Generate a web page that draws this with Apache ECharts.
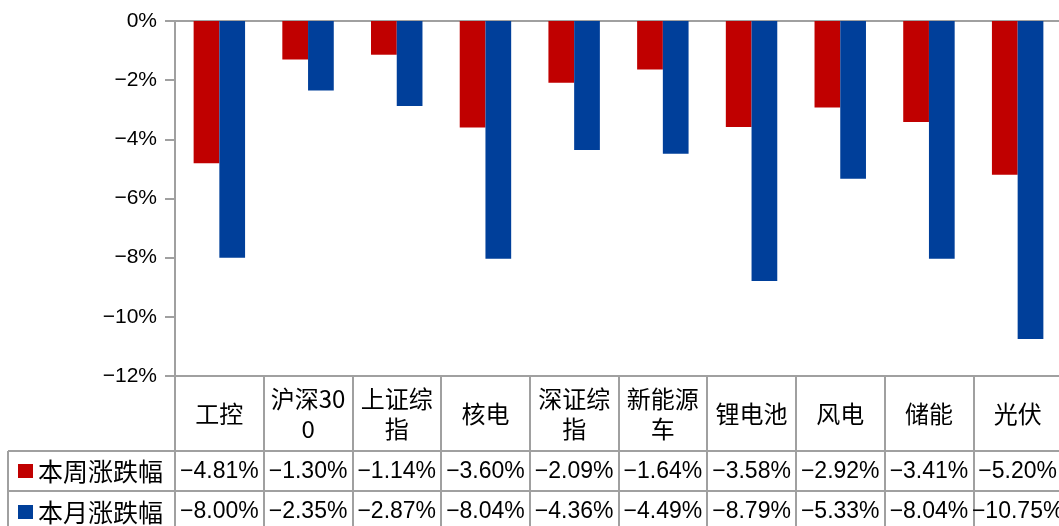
<!DOCTYPE html>
<html>
<head>
<meta charset="utf-8">
<script src="https://cdn.jsdelivr.net/npm/echarts@6/dist/echarts.min.js"></script>
<style>
  html, body { margin: 0; padding: 0; background: #fff; }
  #chart { width: 1059px; height: 526px; }
</style>
</head>
<body>
<div id="chart"></div>
<script>
// Sectors / indices shown along the category axis
const categories = ['工控', '沪深300', '上证综指', '核电', '深证综指', '新能源车', '锂电池', '风电', '储能', '光伏'];
// Series names
const seriesNames = ['本周涨跌幅', '本月涨跌幅'];
// Weekly change (%)
const weekly = [-4.81, -1.30, -1.14, -3.60, -2.09, -1.64, -3.58, -2.92, -3.41, -5.20];
// Monthly change (%)
const monthly = [-8.00, -2.35, -2.87, -8.04, -4.36, -4.49, -8.79, -5.33, -8.04, -10.75];
// Value axis ticks
const yTicks = { min: -12, max: 0, interval: 2 };

const RED = '#C00000';
const BLUE = '#003F9A';
const LINE = { color: '#a0a0a0', width: 2 };
const CJK = '"Noto Sans CJK SC", sans-serif';
const NUM = '"Liberation Sans", Arial, sans-serif';

const pct = v => (v < 0 ? '\u2212' : '') + Math.abs(v).toFixed(2) + '%';

// One table row drawn as an extra bottom category axis
function tableRowAxis(offset, values, tickLen) {
  return {
    type: 'category',
    data: categories,
    position: 'bottom',
    offset: offset,
    axisLine: { onZero: false, lineStyle: LINE },
    axisTick: { show: true, interval: 0, length: tickLen, lineStyle: LINE },
    axisLabel: {
      interval: 0,
      margin: 21,
      verticalAlign: 'middle',
      fontFamily: NUM,
      fontSize: 23,
      color: '#000',
      formatter: (v, i) => pct(values[i])
    }
  };
}

// Legend entry placed in the first column of a table row
function rowLegend(name, top) {
  return {
    data: [name],
    orient: 'vertical',
    left: 18,
    top: top,
    padding: 0,
    itemWidth: 15,
    itemHeight: 14,
    itemGap: 0,
    icon: 'rect',
    selectedMode: false,
    textStyle: { fontFamily: CJK, fontSize: 25, lineHeight: 26, color: '#000' }
  };
}

const chart = echarts.init(document.getElementById('chart'), null, { renderer: 'canvas' });

chart.setOption({
  animation: false,
  backgroundColor: '#fff',
  grid: { left: 175, top: 21, width: 887, height: 355, containLabel: false, outerBoundsMode: 'none' },
  legend: [rowLegend(seriesNames[0], 458), rowLegend(seriesNames[1], 499)],
  xAxis: [
    {
      // zero line along the top of the plot
      type: 'category',
      data: categories,
      position: 'top',
      axisLine: { onZero: false, lineStyle: LINE },
      axisTick: { show: false },
      axisLabel: { show: false }
    },
    {
      // header row with category names
      type: 'category',
      data: categories,
      position: 'bottom',
      offset: 0,
      axisLine: { onZero: false, lineStyle: LINE },
      axisTick: { show: true, interval: 0, length: 75, lineStyle: LINE },
      axisLabel: {
        interval: 0,
        margin: 38,
        verticalAlign: 'middle',
        fontFamily: CJK,
        fontSize: 24,
        lineHeight: 30,
        width: 80,
        overflow: 'breakAll',
        color: '#000'
      }
    },
    tableRowAxis(75, weekly, 40),
    tableRowAxis(115, monthly, 40)
  ],
  yAxis: {
    type: 'value',
    min: yTicks.min,
    max: yTicks.max,
    interval: yTicks.interval,
    axisLine: { show: true, lineStyle: LINE },
    axisTick: { show: true, length: 10, lineStyle: LINE },
    splitLine: { show: false },
    axisLabel: {
      margin: 18,
      fontFamily: NUM,
      fontSize: 21,
      color: '#000',
      formatter: v => (v < 0 ? '\u2212' : '') + Math.abs(v) + '%'
    }
  },
  series: [
    {
      name: seriesNames[0],
      type: 'bar',
      xAxisIndex: 0,
      data: weekly,
      barWidth: '29%',
      barGap: '0%',
      itemStyle: { color: RED }
    },
    {
      name: seriesNames[1],
      type: 'bar',
      xAxisIndex: 0,
      data: monthly,
      barWidth: '29%',
      barGap: '0%',
      itemStyle: { color: BLUE }
    }
  ],
  // borders of the legend column of the data table
  graphic: [
    { type: 'line', shape: { x1: 8, y1: 451, x2: 175, y2: 451 }, style: { stroke: LINE.color, lineWidth: LINE.width } },
    { type: 'line', shape: { x1: 8, y1: 491, x2: 175, y2: 491 }, style: { stroke: LINE.color, lineWidth: LINE.width } },
    { type: 'line', shape: { x1: 8, y1: 451, x2: 8, y2: 530 }, style: { stroke: LINE.color, lineWidth: LINE.width } }
  ]
});
</script>
</body>
</html>
